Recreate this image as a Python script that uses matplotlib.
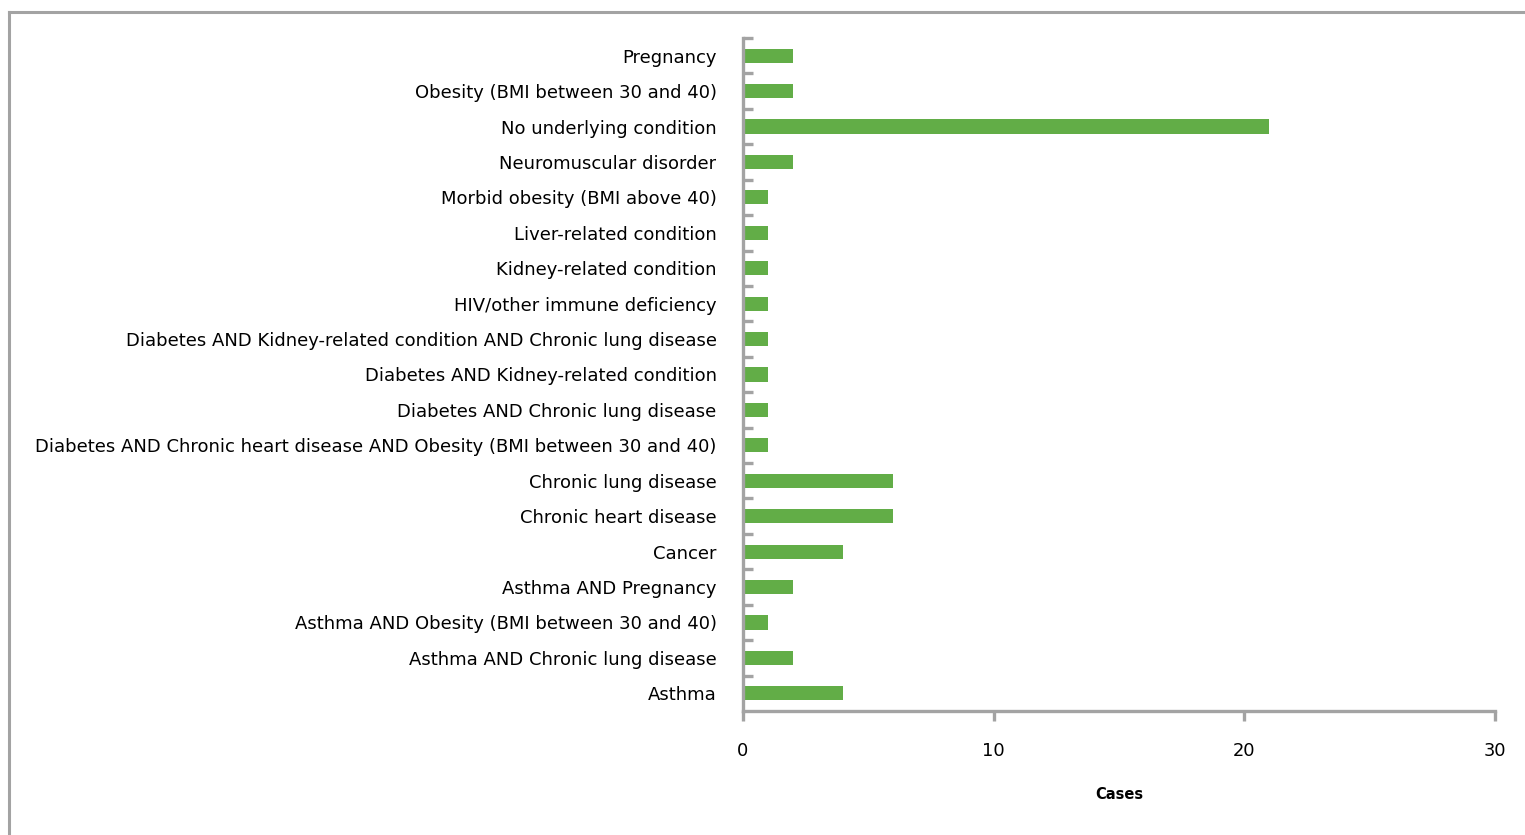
import matplotlib.pyplot as plt
import numpy as np
from matplotlib.lines import Line2D

conditions = [
    "Asthma",
    "Asthma AND Chronic lung disease",
    "Asthma AND Obesity (BMI between 30 and 40)",
    "Asthma AND Pregnancy",
    "Cancer",
    "Chronic heart disease",
    "Chronic lung disease",
    "Diabetes AND Chronic heart disease AND Obesity (BMI between 30 and 40)",
    "Diabetes AND Chronic lung disease",
    "Diabetes AND Kidney-related condition",
    "Diabetes AND Kidney-related condition AND Chronic lung disease",
    "HIV/other immune deficiency",
    "Kidney-related condition",
    "Liver-related condition",
    "Morbid obesity (BMI above 40)",
    "Neuromuscular disorder",
    "No underlying condition",
    "Obesity (BMI between 30 and 40)",
    "Pregnancy",
]
cases = [4, 2, 1, 2, 4, 6, 6, 1, 1, 1, 1, 1, 1, 1, 1, 2, 21, 2, 2]

grey = "#a3a3a3"
green = "#62ad47"

fig = plt.figure(figsize=(15.25, 8.35), dpi=100)
ax = fig.add_axes([0.4872, 0.1485, 0.4931, 0.806])

y = np.arange(len(conditions))
ax.barh(y, cases, height=0.4, color=green)

ax.set_xlim(0, 30)
ax.set_ylim(-0.5, len(conditions) - 0.5)
ax.set_xticks([0, 10, 20, 30])
ax.set_yticks(y)
ax.set_yticklabels(conditions)
# small ticks between the categories
ax.set_yticks(np.arange(len(conditions)) + 0.5, minor=True)

for side in ["top", "right"]:
    ax.spines[side].set_visible(False)
for side in ["left", "bottom"]:
    ax.spines[side].set_color(grey)
    ax.spines[side].set_linewidth(2.4)

ax.tick_params(axis="y", which="major", length=0, pad=19, labelsize=13)
ax.tick_params(axis="y", which="minor", direction="in", length=7, width=2.4, color=grey)
ax.tick_params(axis="x", direction="out", length=7, width=2.4, color=grey, pad=15, labelsize=12.9)

ax.set_xlabel("Cases", fontsize=10.5, fontweight="bold", labelpad=20)

# outer frame on the left and top edges
fig.add_artist(Line2D([0.0059, 0.0059], [0, 0.9856], transform=fig.transFigure, color=grey, lw=2.2))
fig.add_artist(Line2D([0.0059, 1.0], [0.9856, 0.9856], transform=fig.transFigure, color=grey, lw=2.2))

fig.savefig("out.png", dpi=100)
